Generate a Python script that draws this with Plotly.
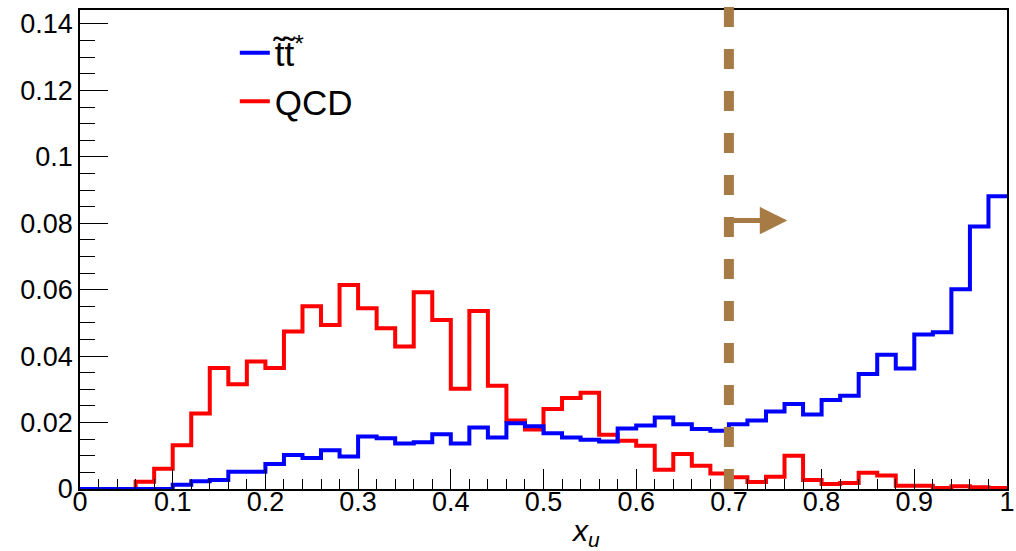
import numpy as np
import plotly.graph_objects as go

# 50 bins between 0 and 1
n_bins = 50
x_min, x_max = 0.0, 1.0

ttstar = [0, 0, 0, 0, 0,
          0.0013, 0.0023, 0.0027, 0.0052, 0.0052,
          0.0075, 0.0102, 0.0093, 0.0117, 0.0098,
          0.0158, 0.0153, 0.0137, 0.0141, 0.0165,
          0.0137, 0.0185, 0.0155, 0.0198, 0.0189,
          0.0168, 0.0155, 0.0148, 0.0143, 0.0182,
          0.0191, 0.0215, 0.0195, 0.0181, 0.0175,
          0.0195, 0.0206, 0.0233, 0.0256, 0.0224,
          0.0268, 0.0281, 0.0346, 0.0404, 0.0363,
          0.0465, 0.0472, 0.0601, 0.0790, 0.0881]

qcd = [0, 0, 0, 0.0022, 0.0061,
       0.0132, 0.0227, 0.0364, 0.0315, 0.0384,
       0.0364, 0.0474, 0.0550, 0.0494, 0.0614,
       0.0544, 0.0484, 0.0429, 0.0592, 0.0509,
       0.0302, 0.0536, 0.0311, 0.0206, 0.0179,
       0.0241, 0.0274, 0.0290, 0.0163, 0.0145,
       0.0130, 0.0058, 0.0105, 0.0070, 0.0047,
       0.0035, 0.0021, 0.0037, 0.0100, 0.0027,
       0.0015, 0.0018, 0.0049, 0.0041, 0.0010,
       0.0010, 0.0003, 0.0008, 0.0005, 0.0003]

cut_value = 0.7
arrow_end = 0.763
arrow_y = 0.0808
y_max = 0.1442

edges = np.linspace(x_min, x_max, n_bins + 1)

def step(vals):
    return list(edges), list(vals) + [vals[-1]]

BROWN = "#A67B45"
FONT = "Liberation Sans, Arial, Helvetica, sans-serif"

fig = go.Figure()
xq, yq = step(qcd)
fig.add_trace(go.Scatter(x=xq, y=yq, mode="lines", line=dict(color="#FF0000", width=4, shape="hv"),
                         name="QCD", legendrank=2))
xt, yt = step(ttstar)
fig.add_trace(go.Scatter(x=xt, y=yt, mode="lines", line=dict(color="#0000FF", width=4, shape="hv"),
                         name="t\u0303t\u0303<sup>*</sup>", legendrank=1))

fig.add_shape(type="line", xref="x", yref="paper", x0=cut_value, x1=cut_value, y0=0, y1=1.01,
              line=dict(color=BROWN, width=10, dash="20px,22px"))

fig.add_annotation(x=arrow_end, y=arrow_y, ax=cut_value, ay=arrow_y, xref="x", yref="y",
                   axref="x", ayref="y", showarrow=True, arrowhead=2, arrowwidth=5,
                   arrowsize=1.1, arrowcolor=BROWN, text="")

fig.add_annotation(x=0.545, y=-0.09, xref="paper", yref="paper", xanchor="center", yanchor="middle",
                   text="<i>x<sub>u</sub></i>", showarrow=False,
                   font=dict(family=FONT, size=30, color="black"))

fig.update_xaxes(range=[x_min, x_max], dtick=0.1, tick0=0, ticks="inside", ticklen=20,
                 tickwidth=1, tickcolor="black", showline=True, linecolor="black", linewidth=1.5,
                 mirror=True, showgrid=False, zeroline=False, automargin=False,
                 ticklabelstandoff=-12,
                 tickfont=dict(family=FONT, size=27, color="black"),
                 minor=dict(dtick=0.02, ticks="inside", ticklen=10, tickcolor="black", tickwidth=1,
                            showgrid=False))
fig.update_yaxes(range=[0, y_max], dtick=0.02, tick0=0, ticks="inside", ticklen=28,
                 tickwidth=1, tickcolor="black", showline=True, linecolor="black", linewidth=1.5,
                 mirror=True, showgrid=False, zeroline=False, automargin=False,
                 tickfont=dict(family=FONT, size=27, color="black"),
                 minor=dict(dtick=0.005, ticks="inside", ticklen=15, tickcolor="black", tickwidth=1,
                            showgrid=False))

fig.update_layout(
    width=1016, height=551,
    margin=dict(l=80, r=9, t=10, b=62, autoexpand=False),
    paper_bgcolor="white", plot_bgcolor="white",
    showlegend=True,
    legend=dict(x=0.167, y=0.972, xanchor="left", yanchor="top", bgcolor="rgba(0,0,0,0)",
                borderwidth=0, font=dict(family=FONT, size=35, color="black"),
                tracegroupgap=0),
    font=dict(family=FONT),
)

fig.write_html("out.html", config={"displayModeBar": False},
               post_script="document.body.style.margin='0';document.body.style.overflow='hidden';")
